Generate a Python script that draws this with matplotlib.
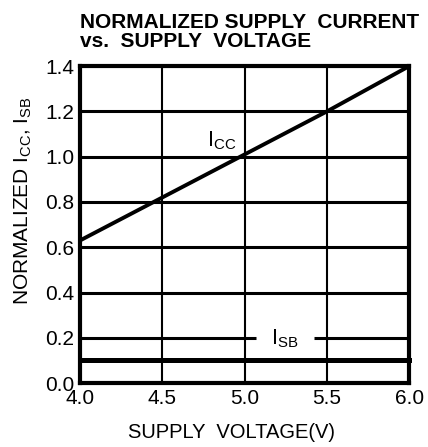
import matplotlib
matplotlib.use("Agg")
import matplotlib.pyplot as plt

plt.rcParams['font.family'] = ['Liberation Sans', 'DejaVu Sans']
plt.rcParams['mathtext.fontset'] = 'custom'
plt.rcParams['mathtext.rm'] = 'Liberation Sans'

voltage = [4.0, 4.5, 5.0, 5.5, 6.0]
icc = [0.63, 0.82, 1.01, 1.20, 1.40]
isb = [0.10, 0.10, 0.10, 0.10, 0.10]
xticks = [4.0, 4.5, 5.0, 5.5, 6.0]
yticks = [0.0, 0.2, 0.4, 0.6, 0.8, 1.0, 1.2, 1.4]

fig = plt.figure(figsize=(4.28, 4.47), dpi=100)
ax = fig.add_axes([0.187, 0.143, 0.769, 0.709])
ax.set_xlim(4.0, 6.0)
ax.set_ylim(0.0, 1.4)

# grid
for xv in xticks[1:-1]:
    ax.axvline(xv, color='black', lw=1.5, zorder=1)
for yv in yticks[1:-1]:
    if abs(yv - 0.2) < 1e-9:
        ax.plot([4.0, 5.07], [yv, yv], color='black', lw=2.2, zorder=1, solid_capstyle='butt')
        ax.plot([5.42, 6.0], [yv, yv], color='black', lw=2.2, zorder=1, solid_capstyle='butt')
    else:
        ax.axhline(yv, color='black', lw=2.2, zorder=1)

ax.plot(voltage, icc, color='black', lw=2.8, zorder=3)
ax.plot(voltage, isb, color='black', lw=3.6, zorder=3, clip_on=False)

ax.text(4.77, 1.07, r'$\mathregular{I_{CC}}$', fontsize=15.5, ha='left', va='center', zorder=4)
ax.text(5.16, 0.195, r'$\mathregular{I_{SB}}$', fontsize=15.5, ha='left', va='center', zorder=4)

for s in ax.spines.values():
    s.set_linewidth(3.0)

ax.set_xticks(xticks)
ax.set_xticklabels([f"{v:.1f}" for v in xticks])
ax.set_yticks(yticks)
ax.set_yticklabels([f"{v:.1f}" for v in yticks])
ax.tick_params(length=0, labelsize=15, pad=4)

ax.set_xlabel('SUPPLY  VOLTAGE(V)', fontsize=14.5, labelpad=12)
ax.xaxis.set_label_coords(0.459, -0.125)
ax.set_ylabel(r'NORMALIZED $\mathregular{I_{CC}}$, $\mathregular{I_{SB}}$', fontsize=15, labelpad=6)
ax.yaxis.set_label_coords(-0.139, 0.577)

fig.text(0.187, 0.972, 'NORMALIZED SUPPLY  CURRENT\nvs.  SUPPLY  VOLTAGE', fontsize=15,
         fontweight='bold', ha='left', va='top', linespacing=1.0)

fig.savefig('out.png', dpi=100)
